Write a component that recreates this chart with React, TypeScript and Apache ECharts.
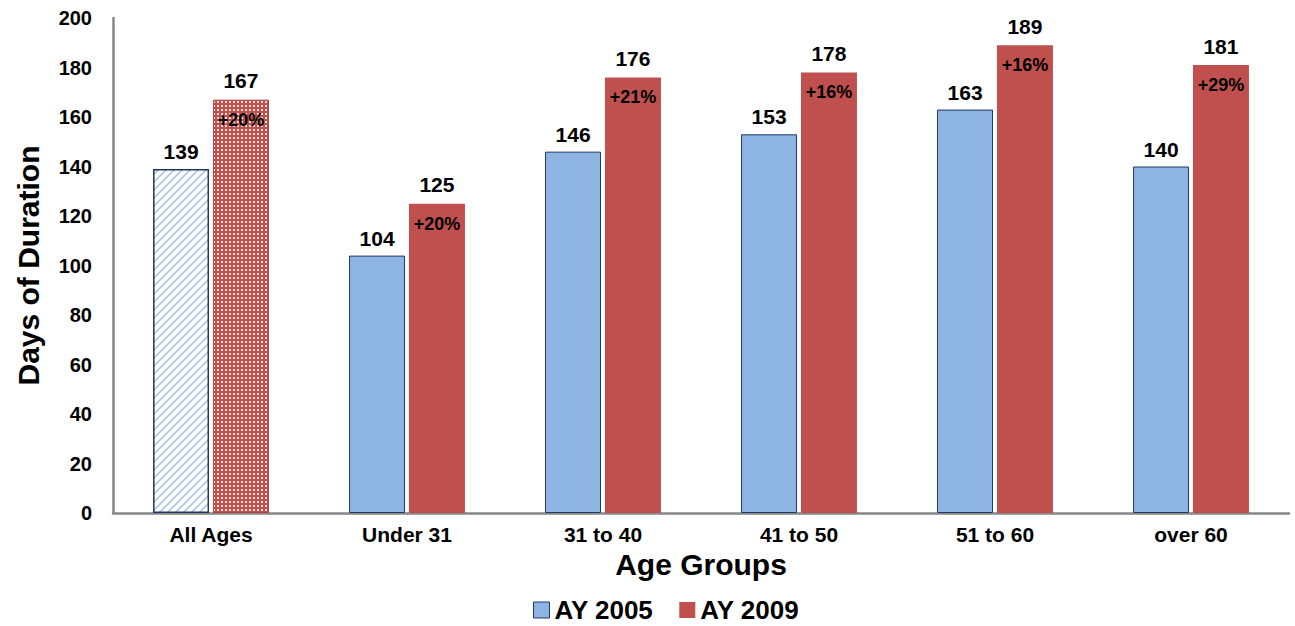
import React, { useEffect, useRef } from "react";
import * as echarts from "echarts";

const categories = ["All Ages", "Under 31", "31 to 40", "41 to 50", "51 to 60", "over 60"];
const ay2005 = [139, 104, 146, 153, 163, 140];
const ay2009 = [167, 125, 176, 178, 189, 181];
const pctChange = ["+20%", "+20%", "+21%", "+16%", "+16%", "+29%"];
const yTicks = { min: 0, max: 200, interval: 20 };

const BLUE = "#8EB4E3";
const BLUE_BORDER = "#1F3864";
const RED = "#C0504D";
const FONT = "Liberation Sans, Arial, sans-serif";

function hatchPattern(): HTMLCanvasElement {
  const c = document.createElement("canvas");
  c.width = 8;
  c.height = 8;
  const g = c.getContext("2d")!;
  g.fillStyle = "#ffffff";
  g.fillRect(0, 0, 8, 8);
  g.strokeStyle = "#A9C6EA";
  g.lineWidth = 1.6;
  g.beginPath();
  g.moveTo(-2, 10);
  g.lineTo(10, -2);
  g.moveTo(-6, 6);
  g.lineTo(6, -6);
  g.moveTo(2, 14);
  g.lineTo(14, 2);
  g.stroke();
  return c;
}

function dotPattern(): HTMLCanvasElement {
  const c = document.createElement("canvas");
  c.width = 4;
  c.height = 4;
  const g = c.getContext("2d")!;
  g.fillStyle = RED;
  g.fillRect(0, 0, 4, 4);
  g.fillStyle = "#F6DEDD";
  g.fillRect(1, 1, 2, 2);
  return c;
}

export default function App() {
  const ref = useRef<HTMLDivElement>(null);
  useEffect(() => {
    document.body.style.margin = "0";
    const chart = echarts.init(ref.current!, null, { renderer: "svg" });
    const hatch = { image: hatchPattern(), repeat: "repeat" };
    const dots = { image: dotPattern(), repeat: "repeat" };

    const blueData = ay2005.map((v, i) =>
      i === 0
        ? { value: v, itemStyle: { color: hatch as any, borderColor: BLUE_BORDER, borderWidth: 1.5 } }
        : { value: v }
    );
    const redData = ay2009.map((v, i) =>
      i === 0
        ? { value: v, itemStyle: { color: dots as any, borderColor: "#B0413E", borderWidth: 1 } }
        : { value: v }
    );

    chart.setOption({
      animation: false,
      textStyle: { fontFamily: FONT },
      grid: { left: 113, right: 6, top: 18, bottom: 113, containLabel: false },
      legend: {
        top: 592,
        left: 528,
        itemWidth: 16,
        itemHeight: 16,
        itemGap: 26,
        icon: "rect",
        textStyle: { fontFamily: FONT, fontWeight: "bold", fontSize: 26, color: "#000" },
        data: [
          { name: "AY 2005", itemStyle: { color: BLUE, borderColor: BLUE_BORDER, borderWidth: 1 } },
          { name: "AY 2009", itemStyle: { color: RED } },
        ],
      },
      xAxis: {
        type: "category",
        data: categories,
        name: "Age Groups",
        nameLocation: "middle",
        nameGap: 34,
        nameTextStyle: { fontFamily: FONT, fontWeight: "bold", fontSize: 30, color: "#000", verticalAlign: "top" },
        axisLine: { lineStyle: { color: "#868686", width: 2.5 } },
        axisTick: { show: false },
        axisLabel: { fontFamily: FONT, fontWeight: "bold", fontSize: 21, color: "#000", margin: 11 },
      },
      yAxis: {
        type: "value",
        min: yTicks.min,
        max: yTicks.max,
        interval: yTicks.interval,
        name: "Days of Duration",
        nameLocation: "middle",
        nameGap: 70,
        nameTextStyle: { fontFamily: FONT, fontWeight: "bold", fontSize: 30, color: "#000" },
        axisLine: { show: true, lineStyle: { color: "#868686", width: 2.5 } },
        axisTick: { show: false },
        splitLine: { show: false },
        axisLabel: { fontFamily: FONT, fontWeight: "bold", fontSize: 20, color: "#000", margin: 21 },
      },
      series: [
        {
          name: "AY 2005",
          type: "bar",
          data: blueData,
          barWidth: 56,
          barGap: "7%",
          itemStyle: { color: BLUE, borderColor: BLUE_BORDER, borderWidth: 1 },
          label: {
            show: true,
            position: "top",
            distance: 7,
            fontFamily: FONT,
            fontWeight: "bold",
            fontSize: 21,
            color: "#000",
          },
        },
        {
          name: "AY 2009",
          type: "bar",
          data: redData,
          barWidth: 56,
          barGap: "7%",
          itemStyle: { color: RED },
          label: {
            show: true,
            position: "insideTop",
            distance: 0,
            offset: [0, -47],
            formatter: (p: any) => `{v|${ay2009[p.dataIndex]}}\n{p|${pctChange[p.dataIndex]}}`,
            rich: {
              v: { fontFamily: FONT, fontWeight: "bold", fontSize: 21, color: "#000", lineHeight: 56 },
              p: { fontFamily: FONT, fontWeight: "bold", fontSize: 18, color: "#000", lineHeight: 22 },
            },
          },
        },
      ],
    });
    return () => chart.dispose();
  }, []);
  return <div ref={ref} style={{ width: 1295, height: 626 }} />;
}
